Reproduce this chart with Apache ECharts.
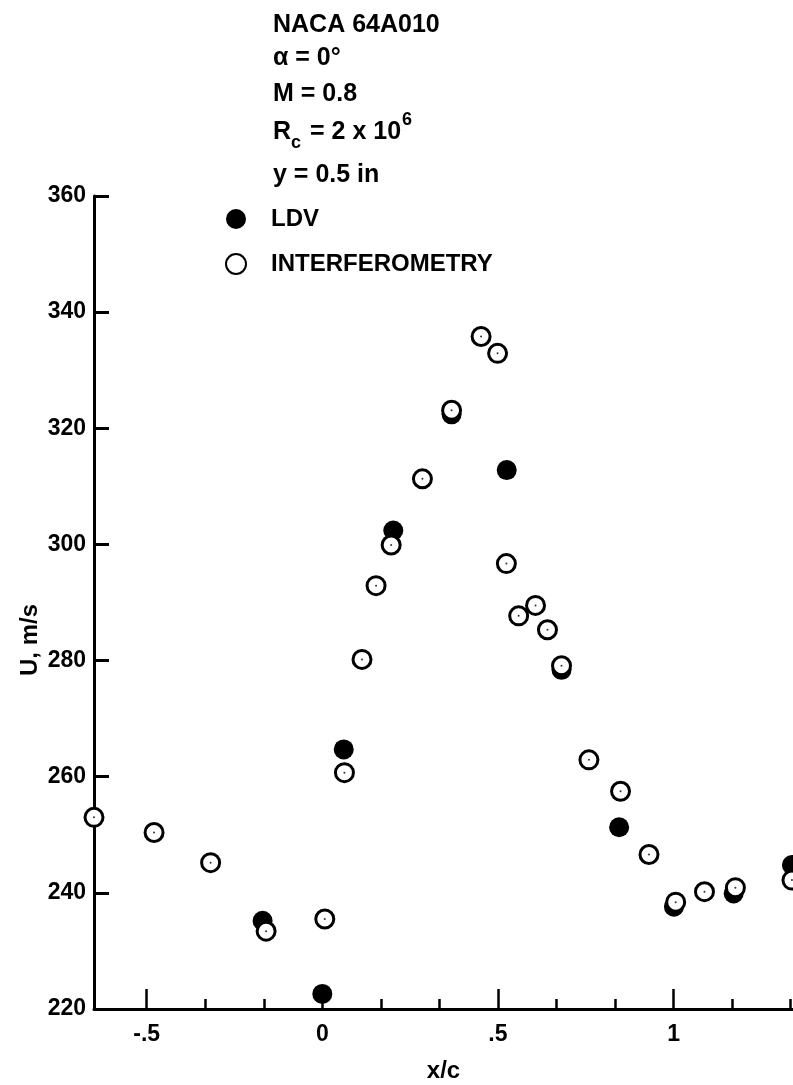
<!DOCTYPE html>
<html>
<head>
<meta charset="utf-8">
<script src="https://cdn.jsdelivr.net/npm/echarts@6/dist/echarts.min.js"></script>
<style>
  html, body { margin: 0; padding: 0; background: #fff; }
  #main { width: 793px; height: 1085px; }
</style>
</head>
<body>
<div id="main"></div>
<script>
// interferometry points [x/c, U]
const interfX = [-0.65, -0.479, -0.318, -0.160, 0.007, 0.063, 0.113, 0.153, 0.196, 0.285, 0.368, 0.452, 0.499, 0.524, 0.559, 0.607, 0.641, 0.681, 0.759, 0.849, 0.930, 1.006, 1.088, 1.176, 1.337];
const interfU = [253.0, 250.4, 245.2, 233.4, 235.5, 260.7, 280.2, 292.9, 299.9, 311.3, 323.1, 335.8, 332.9, 296.7, 287.7, 289.5, 285.3, 279.1, 262.9, 257.5, 246.6, 238.4, 240.2, 240.9, 242.2];
// LDV points
const ldvX = [-0.170, 0.0, 0.061, 0.202, 0.368, 0.525, 0.681, 0.845, 1.001, 1.171, 1.337];
const ldvU = [235.2, 222.6, 264.7, 302.4, 322.4, 312.8, 278.4, 251.3, 237.6, 239.9, 244.8];

const xLabelValues = [-0.5, 0, 0.5, 1];
const xTickLabels = ['-.5', '0', '.5', '1'];
const xMinorTicks = [-1 / 3, -1 / 6, 1 / 6, 1 / 3, 2 / 3, 5 / 6, 7 / 6, 4 / 3];

const FONT = 'Liberation Sans, Arial, sans-serif';

const interfData = interfX.map((x, i) => [x, interfU[i]]);
const ldvData = ldvX.map((x, i) => [x, ldvU[i]]);

const myChart = echarts.init(document.getElementById('main'));

function txt(text, x, y, size) {
  return {
    type: 'text',
    x: x,
    y: y,
    style: {
      text: text,
      fill: '#000',
      font: 'bold ' + size + 'px ' + FONT,
      textVerticalAlign: 'middle'
    }
  };
}

myChart.setOption({
  animation: false,
  backgroundColor: '#fff',
  grid: { left: 94, right: 0, top: 196, bottom: 76, outerBoundsMode: 'none', containLabel: false },
  legend: {
    orient: 'vertical',
    left: 220,
    top: 202,
    itemWidth: 20,
    itemHeight: 20,
    itemGap: 21,
    data: ['LDV', 'INTERFEROMETRY'],
    textStyle: { color: '#000', fontSize: 24, fontWeight: 'bold', fontFamily: FONT, padding: [0, 0, 0, 20] }
  },
  xAxis: [
    {
      type: 'value',
      min: -0.65,
      max: 1.34,
      name: 'x/c',
      nameLocation: 'middle',
      nameGap: 50,
      nameTextStyle: { color: '#000', fontSize: 24, fontWeight: 'bold', fontFamily: FONT },
      axisLine: { onZero: false, lineStyle: { color: '#000', width: 3 } },
      axisTick: { inside: true, length: 10, customValues: xMinorTicks, lineStyle: { color: '#000', width: 2.5 } },
      axisLabel: {
        customValues: xLabelValues,
        margin: 14,
        color: '#000',
        fontSize: 23,
        fontWeight: 'bold',
        fontFamily: FONT,
        formatter: (v) => {
          const i = xLabelValues.findIndex((t) => Math.abs(t - v) < 1e-6);
          return i >= 0 ? xTickLabels[i] : '';
        }
      },
      splitLine: { show: false }
    },
    {
      type: 'value',
      min: -0.65,
      max: 1.34,
      position: 'bottom',
      axisLine: { show: false, onZero: false },
      axisTick: { inside: true, length: 20, customValues: xLabelValues, lineStyle: { color: '#000', width: 2.5 } },
      axisLabel: { show: false },
      splitLine: { show: false }
    }
  ],
  yAxis: {
    type: 'value',
    min: 220,
    max: 360,
    interval: 20,
    axisLine: { onZero: false, lineStyle: { color: '#000', width: 3 } },
    axisTick: { inside: true, length: 15, lineStyle: { color: '#000', width: 3 } },
    axisLabel: { color: '#000', fontSize: 23, fontWeight: 'bold', fontFamily: FONT, margin: 8 },
    splitLine: { show: false }
  },
  graphic: [
    txt('NACA 64A010', 273, 25, 25),
    txt('α = 0°', 273, 58, 25),
    txt('M = 0.8', 273, 94, 25),
    txt('R', 273, 132, 25),
    txt('c', 291, 143, 18),
    txt('= 2 x 10', 310, 132, 25),
    txt('6', 402, 120, 18),
    txt('y = 0.5 in', 273, 175, 25),
    {
      type: 'text',
      x: 30,
      y: 640,
      rotation: Math.PI / 2,
      style: {
        text: 'U, m/s',
        fill: '#000',
        font: 'bold 24px ' + FONT,
        textAlign: 'center',
        textVerticalAlign: 'middle'
      }
    }
  ],
  series: [
    {
      name: 'LDV',
      type: 'scatter',
      symbol: 'circle',
      symbolSize: 20,
      itemStyle: { color: '#000', opacity: 1 },
      data: ldvData,
      z: 2
    },
    {
      name: 'INTERFEROMETRY',
      type: 'scatter',
      symbol: 'circle',
      symbolSize: 18,
      itemStyle: { color: '#fff', borderColor: '#000', borderWidth: 3, opacity: 1 },
      data: interfData,
      z: 3
    },
    {
      name: 'dots',
      type: 'scatter',
      symbol: 'circle',
      symbolSize: 2,
      silent: true,
      itemStyle: { color: '#000' },
      data: interfData,
      z: 4
    }
  ]
});
</script>
</body>
</html>
